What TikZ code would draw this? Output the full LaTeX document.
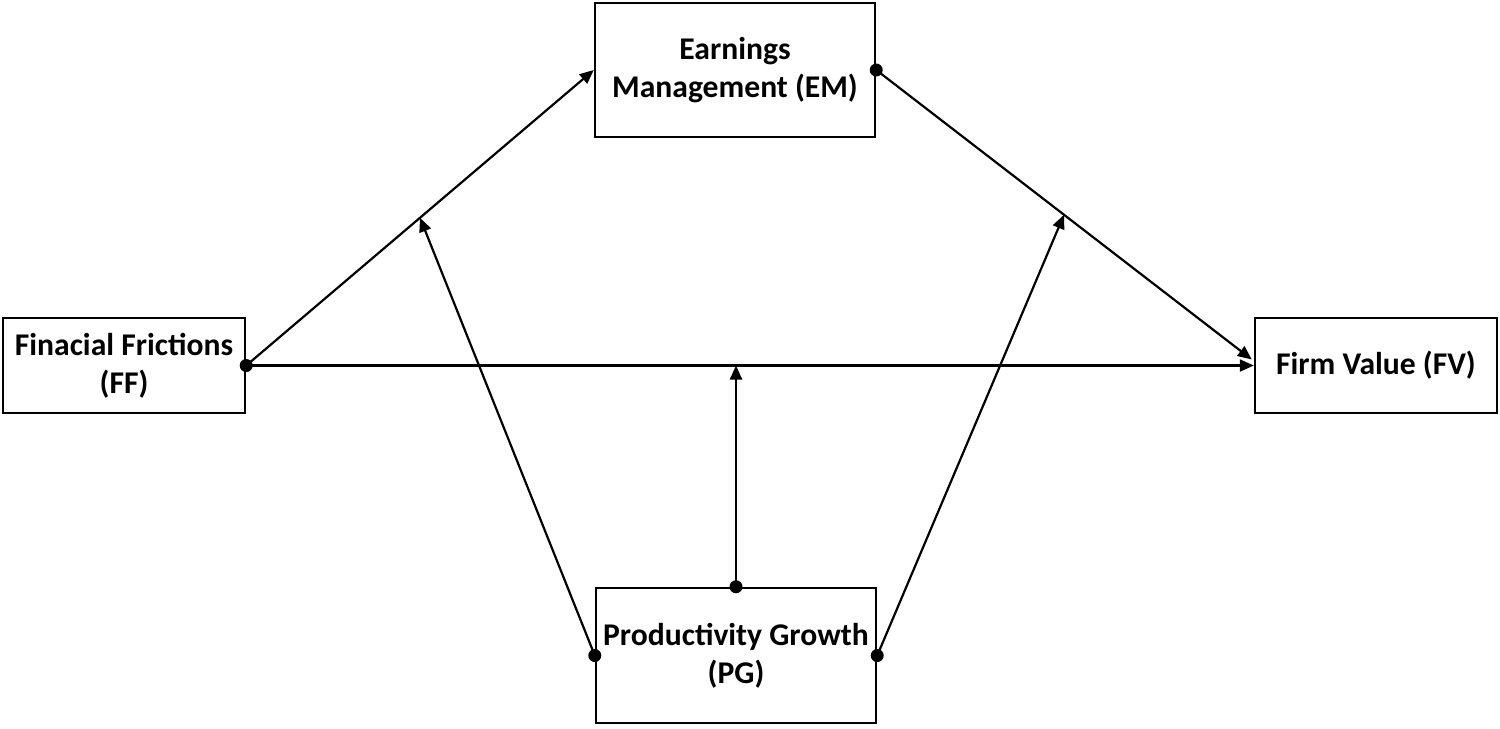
\documentclass[tikz,border=0pt]{standalone}
\usepackage{fontspec}
\setmainfont{Carlito}
\usetikzlibrary{arrows.meta,calc}
\begin{document}
\begin{tikzpicture}[x=0.02cm,y=-0.02cm,
  box/.style={draw,line width=1.4pt,inner sep=0pt,align=center,font=\fontsize{18}{21.5}\selectfont\bfseries},
  link/.style={line width=1.25pt,-{Triangle[length=0.28cm,width=0.24cm]}},
  dot/.style={circle,fill=black,inner sep=0pt,minimum size=0.26cm}]
\useasboundingbox (0,0) rectangle (1500,728);
\node[box,minimum width=242*0.02cm,minimum height=95*0.02cm] (ff) at (124,365.5) {Finacial Frictions\\(FF)};
\node[box,minimum width=280*0.02cm,minimum height=134*0.02cm] (em) at (735,70) {Earnings\\Management (EM)};
\node[box,minimum width=280*0.02cm,minimum height=135*0.02cm] (pg) at (736,655.5) {Productivity Growth\\(PG)};
\node[box,minimum width=242*0.02cm,minimum height=95*0.02cm] (fv) at (1376,365.5) {Firm Value (FV)};
\coordinate (fvin) at ($(fv.west)+(-2,-6)$);
\coordinate (m1) at ($(ff.east)!0.5!(em.west)$);
\coordinate (m2) at ($(em.east)!0.5!(fvin)$);
\coordinate (m3) at (pg.north |- ff.east);
\draw[link] (ff.east) -- (em.west);
\draw[link] (ff.east) -- (fv.west);
\draw[link] (em.east) -- (fvin);
\draw[link] (pg.west) -- (m1);
\draw[link] (pg.east) -- (m2);
\draw[link] (pg.north) -- (m3);
\node[dot] (d1) at (ff.east) {};
\node[dot] (d2) at (em.east) {};
\node[dot] (d3) at (pg.north) {};
\node[dot] (d4) at (pg.west) {};
\node[dot] (d5) at (pg.east) {};
\end{tikzpicture}
\end{document}
